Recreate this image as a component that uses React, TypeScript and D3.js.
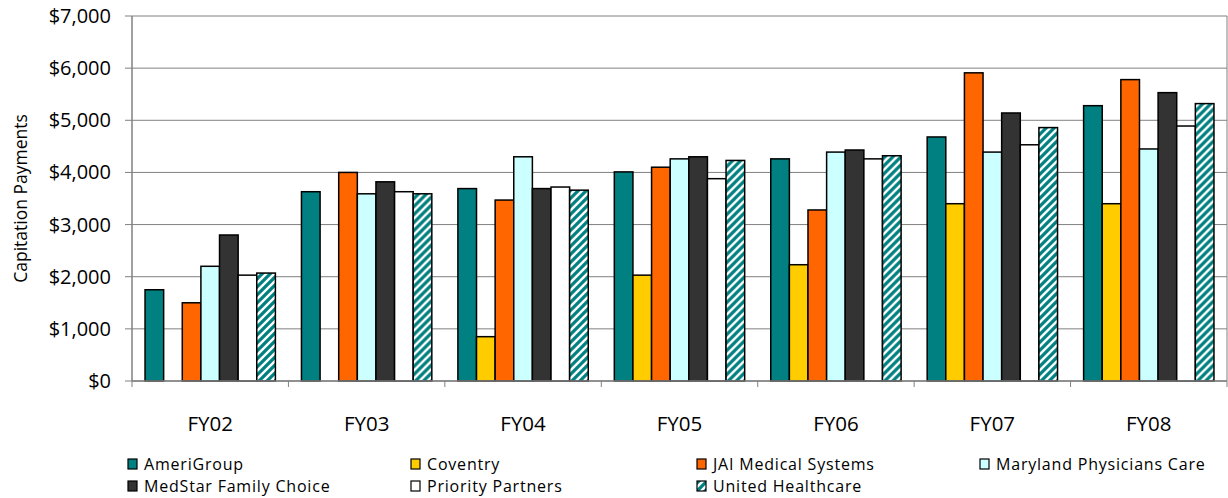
import * as d3 from 'd3';
import React from 'react';

const years = ['FY02', 'FY03', 'FY04', 'FY05', 'FY06', 'FY07', 'FY08'];
const plans = [
  'AmeriGroup',
  'Coventry',
  'JAI Medical Systems',
  'Maryland Physicians Care',
  'MedStar Family Choice',
  'Priority Partners',
  'United Healthcare',
];

// one array per plan, FY02..FY08 (0 = no payment that year)
const ameriGroup = [1750, 3630, 3690, 4010, 4260, 4680, 5280];
const coventry = [0, 0, 850, 2030, 2230, 3400, 3400];
const jai = [1500, 4000, 3470, 4100, 3280, 5910, 5780];
const marylandPC = [2200, 3590, 4300, 4260, 4390, 4390, 4450];
const medStar = [2800, 3820, 3690, 4300, 4430, 5140, 5530];
const priority = [2030, 3630, 3720, 3880, 4260, 4530, 4890];
const united = [2070, 3590, 3660, 4230, 4320, 4860, 5320];

const seriesValues = [ameriGroup, coventry, jai, marylandPC, medStar, priority, united];
const fills = ['#008080', '#FFCC00', '#FF6600', '#CCFFFF', '#333333', '#FFFFFF', 'url(#hatch)'];
const yTicks = [0, 1000, 2000, 3000, 4000, 5000, 6000, 7000];

const W = 1228;
const H = 498;
const left = 132;
const right = 1227;
const top = 16;
const bottom = 381;
const font = '"Open Sans", sans-serif';

export default function App() {
  const x = d3.scaleBand<string>().domain(years).range([left, right]).paddingInner(0).paddingOuter(0);
  const inner = d3.scaleBand<string>().domain(plans).range([0, x.bandwidth()]).paddingInner(0).paddingOuter(0.7);
  const y = d3.scaleLinear().domain([0, 7000]).range([bottom, top]);
  const fmt = d3.format('$,');

  const legendCols = [128, 411, 697, 980];
  const legendRows = [464, 486];

  return (
    <svg width={W} height={H} style={{ position: 'absolute', left: 0, top: 0, background: '#fff' }}>
      <defs>
        <pattern id="hatch" patternUnits="userSpaceOnUse" width={8} height={8}>
          <rect width={8} height={8} fill="#008080" />
          <path d="M-2,2 l4,-4 M0,8 l8,-8 M6,10 l4,-4" stroke="#fff" strokeWidth={2.4} />
        </pattern>
      </defs>

      {/* gridlines */}
      {yTicks.map((t) => (
        <g key={t}>
          <line x1={left} x2={right} y1={y(t)} y2={y(t)} stroke="#808080" strokeWidth={1} />
          <line x1={left - 7} x2={left} y1={y(t)} y2={y(t)} stroke="#808080" strokeWidth={1} />
          <text x={111} y={y(t)} dy="0.35em" textAnchor="end" fontFamily={font} fontSize={20} fill="#000">
            {fmt(t)}
          </text>
        </g>
      ))}
      <line x1={right} x2={right} y1={top} y2={bottom} stroke="#808080" strokeWidth={1} />
      <line x1={left} x2={left} y1={top} y2={bottom} stroke="#808080" strokeWidth={1.5} />

      {/* bars */}
      {years.map((yr, i) => (
        <g key={yr} transform={`translate(${x(yr)},0)`}>
          {plans.map((p, j) => {
            const v = seriesValues[j][i];
            if (!v) return null;
            return (
              <rect
                key={p}
                x={inner(p)}
                y={y(v)}
                width={inner.bandwidth()}
                height={bottom - y(v)}
                fill={fills[j]}
                stroke="#000"
                strokeWidth={1.5}
              />
            );
          })}
        </g>
      ))}

      {/* x axis */}
      <line x1={left} x2={right} y1={bottom} y2={bottom} stroke="#808080" strokeWidth={1.5} />
      {years.map((yr) => (
        <line key={'t' + yr} x1={x(yr)!} x2={x(yr)!} y1={bottom} y2={bottom + 6} stroke="#808080" strokeWidth={1} />
      ))}
      <line x1={right} x2={right} y1={bottom} y2={bottom + 6} stroke="#808080" strokeWidth={1} />
      {years.map((yr) => (
        <text key={'l' + yr} x={x(yr)! + x.bandwidth() / 2} y={424} dy="0.35em" textAnchor="middle" fontFamily={font} fontSize={20.5} fill="#000">
          {yr}
        </text>
      ))}

      <text
        transform={`translate(21,${(top + bottom) / 2}) rotate(-90)`}
        textAnchor="middle"
        dy="0.35em"
        fontFamily={font}
        fontSize={17.5}
        fill="#000"
      >
        Capitation Payments
      </text>

      {/* legend */}
      {plans.map((p, k) => {
        const col = k < 4 ? k : k - 4;
        const row = k < 4 ? 0 : 1;
        const lx = legendCols[col];
        const ly = legendRows[row];
        return (
          <g key={'lg' + p}>
            <rect x={lx} y={ly - 5} width={9} height={10} fill={fills[k]} stroke="#000" strokeWidth={1.2} />
            <text x={lx + 16} y={ly} dy="0.35em" fontFamily={font} fontSize={16} letterSpacing={0.8} fill="#000">
              {p}
            </text>
          </g>
        );
      })}
    </svg>
  );
}
